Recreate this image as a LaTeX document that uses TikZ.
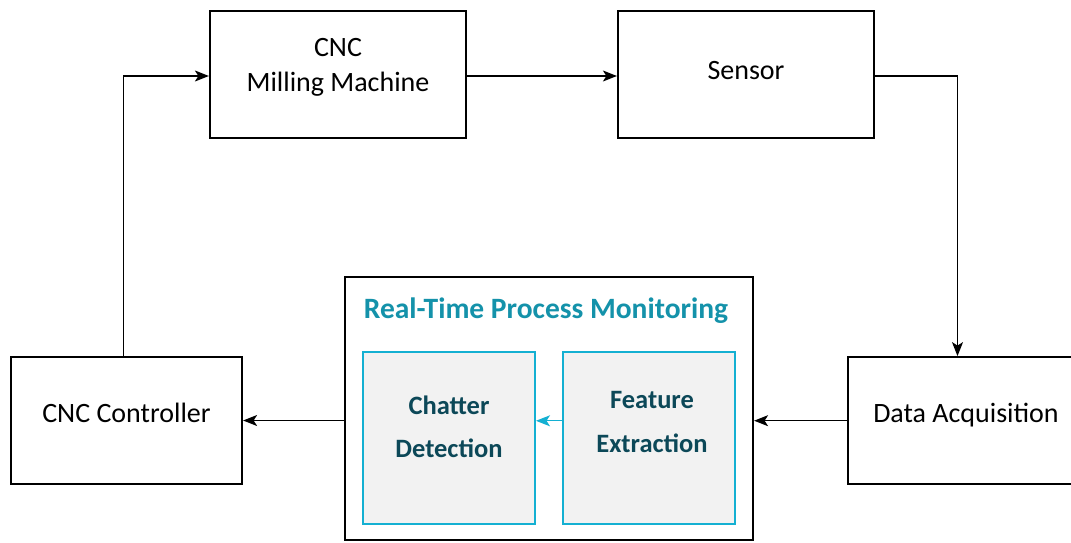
\documentclass[tikz,border=0pt]{standalone}
\usepackage{fontspec}
\setmainfont{Carlito}
\usetikzlibrary{arrows.meta,calc}
\definecolor{titlecol}{RGB}{20,146,170}
\definecolor{innertext}{RGB}{12,72,88}
\definecolor{innerborder}{RGB}{20,176,210}
\definecolor{innerfill}{RGB}{242,242,242}
\begin{document}
\begin{tikzpicture}[x=1pt,y=-1pt,
  box/.style={draw=black,line width=2.2pt,fill=white,inner sep=0pt},
  inbox/.style={draw=innerborder,line width=2pt,fill=innerfill,inner sep=0pt},
  conn/.style={draw=black,line width=1.2pt,-{Stealth[length=14pt,width=11pt,inset=3.5pt]}},
  inconn/.style={draw=innerborder,line width=1.2pt,-{Stealth[length=14pt,width=11pt,inset=3.5pt]}},
  txt/.style={anchor=base,inner sep=0pt,font=\fontsize{28}{34}\selectfont},
  ttl/.style={anchor=base,inner sep=0pt,text=titlecol,font=\fontsize{29.5}{35}\selectfont\bfseries},
  intxt/.style={anchor=base,inner sep=0pt,text=innertext,font=\fontsize{26.5}{32}\selectfont\bfseries}
]
\useasboundingbox (0,0) rectangle (1071,543);
% boxes
\node[box,minimum width=256pt,minimum height=127pt] (mill) at (338,74.5) {};
\node[box,minimum width=256pt,minimum height=127pt] (sensor) at (746,74.5) {};
\node[box,minimum width=225pt,minimum height=127pt] (daq) at (960.5,420.7) {};
\node[box,minimum width=231pt,minimum height=127pt] (ctrl) at (126.5,420.5) {};
\node[box,minimum width=408pt,minimum height=263pt] (rt) at (549,408.3) {};
\node[inbox,minimum width=172pt,minimum height=172pt] (chat) at (449,437.8) {};
\node[inbox,minimum width=172pt,minimum height=172pt] (feat) at (649,437.8) {};
% texts
\node[txt] (t1) at (338,57) {CNC};
\node[txt] (t2) at (338,92) {Milling Machine};
\node[txt] (t3) at (746,80) {Sensor};
\node[txt] (t4) at (966,422) {Data Acquisition};
\node[txt] (t5) at (126.5,422) {CNC Controller};
\node[ttl] (t6) at (546,318) {Real-Time Process Monitoring};
\node[intxt] (t7) at (449,414) {Chatter};
\node[intxt] (t8) at (449,457) {Detection};
\node[intxt] (t9) at (652,408) {Feature};
\node[intxt] (t10) at (652,452) {Extraction};
% connectors
\draw[conn] ([xshift=-3pt]ctrl.north) |- ([yshift=-1.5pt]mill.west);
\draw[conn] ([yshift=-1.5pt]mill.east) -- ([yshift=-1.5pt]sensor.west);
\draw[conn] ([yshift=-1.5pt]sensor.east) -| ([xshift=-3pt]daq.north);
\draw[conn] (daq.west) -- (daq.west -| rt.east);
\draw[conn] (ctrl.east -| rt.west) -- (ctrl.east);
\draw[inconn] ([yshift=17pt]feat.west) -- ([yshift=17pt]chat.east);
\end{tikzpicture}
\end{document}
